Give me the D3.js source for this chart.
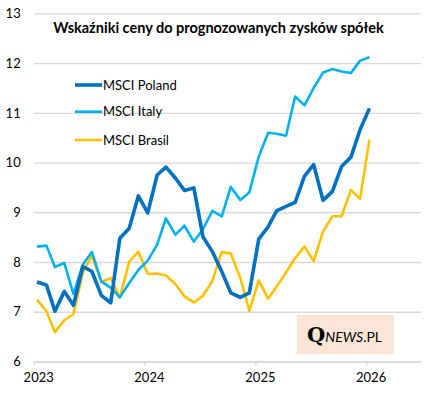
<!DOCTYPE html>
<html>
<head>
<meta charset="utf-8">
<script src="https://cdn.jsdelivr.net/npm/d3@7"></script>
<style>
  body { margin: 0; background: #fff; }
  svg { display: block; font-family: Lato, "Open Sans", sans-serif; }
</style>
</head>
<body>
<div id="chart"></div>
<script>
// monthly observations, Jan 2023 .. Jan 2026
const startMonth = new Date(2023, 0, 12);
const poland = [7.60, 7.54, 7.01, 7.41, 7.13, 7.91, 7.81, 7.33, 7.18, 8.48, 8.68, 9.33, 8.99,
  9.75, 9.91, 9.69, 9.44, 9.49, 8.51, 8.21, 7.81, 7.38, 7.29, 7.38, 8.46,
  8.71, 9.03, 9.12, 9.20, 9.73, 9.96, 9.24, 9.42, 9.92, 10.11, 10.66, 11.09];
const italy = [8.31, 8.33, 7.90, 7.98, 7.36, 7.95, 8.20, 7.61, 7.48, 7.29, 7.58, 7.84, 8.03,
  8.35, 8.88, 8.55, 8.73, 8.41, 8.66, 9.03, 8.92, 9.51, 9.25, 9.40, 10.12,
  10.60, 10.58, 10.54, 11.33, 11.15, 11.50, 11.81, 11.88, 11.83, 11.80, 12.05, 12.12];
const brasil = [7.24, 7.01, 6.59, 6.83, 6.95, 7.79, 8.13, 7.60, 7.68, 7.28, 8.01, 8.21, 7.76,
  7.77, 7.73, 7.56, 7.31, 7.19, 7.32, 7.62, 8.20, 8.17, 7.68, 7.02, 7.63,
  7.26, 7.51, 7.79, 8.08, 8.31, 8.02, 8.61, 8.92, 8.92, 9.45, 9.27, 10.46];
const seriesNames = ['MSCI Poland', 'MSCI Italy', 'MSCI Brasil'];
const yTicks = [6, 7, 8, 9, 10, 11, 12, 13];
const title = 'Wskaźniki ceny do prognozowanych zysków spółek';

const W = 434, H = 399;
const margin = { top: 13.4, right: 13, bottom: 37.5, left: 33.7 };
const width = W - margin.left - margin.right;
const height = H - margin.top - margin.bottom;

const dates = poland.map((d, i) => d3.timeMonth.offset(startMonth, i));
const series = [
  { name: seriesNames[0], values: poland, color: '#0070c0', w: 3.6 },
  { name: seriesNames[1], values: italy, color: '#00b0f0', w: 2.6 },
  { name: seriesNames[2], values: brasil, color: '#ffc000', w: 2.6 },
];

const x = d3.scaleTime()
  .domain([new Date(2023, 0, 1), new Date(2026, 6, 1)])
  .range([0, width]);
const y = d3.scaleLinear().domain([6, 13]).range([height, 0]);

const svg = d3.select('#chart').append('svg')
  .attr('width', W).attr('height', H);
const g = svg.append('g')
  .attr('transform', `translate(${margin.left},${margin.top})`);

// gridlines
const grid = g.append('g')
  .call(d3.axisLeft(y).tickValues(yTicks).tickSizeInner(-width).tickSizeOuter(0).tickFormat(''));
grid.select('.domain').remove();
grid.selectAll('line').attr('stroke', '#d9d9d9').attr('stroke-width', 1.4);

// y labels
const yAxis = g.append('g')
  .call(d3.axisLeft(y).tickValues(yTicks).tickSize(0).tickPadding(13).tickFormat(d3.format('d')));
yAxis.select('.domain').remove();
yAxis.selectAll('text').attr('font-size', 13).attr('fill', '#000')
  .style('font-family', 'Lato, sans-serif');

// x axis
const xAxis = g.append('g')
  .attr('transform', `translate(0,${height})`)
  .call(d3.axisBottom(x).ticks(d3.timeYear.every(1)).tickSizeInner(4).tickSizeOuter(0)
    .tickFormat(d3.timeFormat('%Y')));
xAxis.select('.domain').attr('stroke', '#d9d9d9').attr('stroke-width', 1.4);
xAxis.selectAll('line').attr('stroke', '#d9d9d9').attr('stroke-width', 1.4);
xAxis.selectAll('text').attr('font-size', 13).attr('fill', '#000')
  .attr('dx', 4.5).attr('dy', 13).style('font-family', 'Lato, sans-serif');

// watermark
const wm = svg.append('g');
wm.append('rect').attr('x', 296.7).attr('y', 315).attr('width', 97.3).attr('height', 39.3)
  .attr('fill', '#fbe5d6');
const wmText = wm.append('text').attr('x', 307).attr('y', 342).attr('fill', '#000');
wmText.append('tspan').text('Q')
  .attr('font-family', '"DejaVu Serif", serif').attr('font-weight', 'bold').attr('font-size', 21);
wmText.append('tspan').text('NEWS')
  .attr('font-family', 'Lato, sans-serif').attr('font-style', 'italic').attr('font-size', 14);
wmText.append('tspan').text('.PL')
  .attr('font-family', 'Lato, sans-serif').attr('font-size', 14);

// lines
const line = d3.line()
  .x((d, i) => x(dates[i]))
  .y((d) => y(d));
g.selectAll('path.series')
  .data(series.slice().reverse())
  .join('path')
  .attr('class', 'series')
  .attr('fill', 'none')
  .attr('stroke', (d) => d.color)
  .attr('stroke-width', (d) => d.w)
  .attr('stroke-linejoin', 'round')
  .attr('d', (d) => line(d.values));

// title
svg.append('text')
  .attr('x', 218.5).attr('y', 33)
  .attr('text-anchor', 'middle')
  .attr('font-size', 14.5).attr('font-weight', 'bold')
  .text(title);

// legend
const legend = svg.append('g').attr('transform', 'translate(75,85)');
const item = legend.selectAll('g')
  .data(series)
  .join('g')
  .attr('transform', (d, i) => `translate(0,${[0, 26.7, 55][i]})`);
item.append('line')
  .attr('x1', 0).attr('x2', 27)
  .attr('stroke', (d) => d.color)
  .attr('stroke-width', (d) => d.w);
item.append('text')
  .attr('x', 28).attr('dy', '0.36em')
  .attr('font-size', 13)
  .text((d) => d.name);
</script>
</body>
</html>
